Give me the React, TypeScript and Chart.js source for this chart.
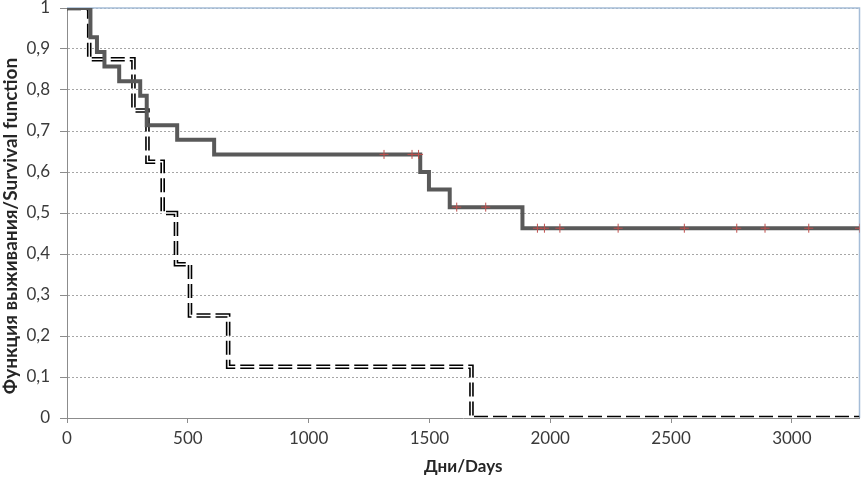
import { useEffect, useRef } from "react";
import { Chart, registerables } from "chart.js";

Chart.register(...registerables);

// Axis ticks
const xTicks = [0, 500, 1000, 1500, 2000, 2500, 3000];
const xMax = 3280;
const yTicks = [0, 0.1, 0.2, 0.3, 0.4, 0.5, 0.6, 0.7, 0.8, 0.9, 1];
const yTickLabels = ["0", "0,1", "0,2", "0,3", "0,4", "0,5", "0,6", "0,7", "0,8", "0,9", "1"];

// Group 1 (solid line)
const group1Days = [0, 97, 124, 155, 216, 303, 330, 456, 609, 1462, 1498, 1584, 1885, 3280];
const group1Survival = [1, 0.9286, 0.8929, 0.8571, 0.8214, 0.7857, 0.7143, 0.6786, 0.6429, 0.6, 0.5571, 0.5143, 0.4629, 0.4629];

// Group 1 censored observations
const group1CensorDays = [1312, 1428, 1455, 1613, 1733, 1947, 1976, 2040, 2281, 2555, 2772, 2889, 3070, 3280];
const group1CensorSurvival = [0.6429, 0.6429, 0.6429, 0.5143, 0.5143, 0.4629, 0.4629, 0.4629, 0.4629, 0.4629, 0.4629, 0.4629, 0.4629, 0.4629];

// Group 2 (double dashed line)
const group2Days = [0, 92, 275, 333, 396, 451, 509, 667, 1674, 3280];
const group2Survival = [1, 0.875, 0.75, 0.625, 0.5, 0.375, 0.25, 0.125, 0, 0];

const xTitle = "Дни/Days";
const yTitle = "Функция выживания/Survival function";

const toPoints = (xs: number[], ys: number[]) => xs.map((x, i) => ({ x, y: ys[i] }));

const frameBorder = {
  id: "frameBorder",
  beforeDatasetsDraw(chart: any) {
    const { ctx, chartArea } = chart;
    const { left, right, top, bottom } = chartArea;
    ctx.save();
    ctx.strokeStyle = "#a5bdd8";
    ctx.lineWidth = 1.5;
    ctx.beginPath();
    ctx.moveTo(left, top);
    ctx.lineTo(right, top);
    ctx.lineTo(right, bottom);
    ctx.stroke();
    ctx.restore();
  },
};

const yTitlePlugin = {
  id: "yTitlePlugin",
  afterDraw(chart: any) {
    const { ctx, chartArea } = chart;
    ctx.save();
    ctx.translate(11, chartArea.top + (chartArea.bottom - chartArea.top) / 2 + 13);
    ctx.rotate(-Math.PI / 2);
    ctx.font = "bold 19px Lato";
    ctx.fillStyle = "#262626";
    ctx.textAlign = "center";
    ctx.textBaseline = "middle";
    ctx.fillText(yTitle, 0, 0);
    ctx.restore();
  },
};

export default function App() {
  const canvasRef = useRef<HTMLCanvasElement | null>(null);

  useEffect(() => {
    document.body.style.margin = "0";
    const canvas = canvasRef.current;
    if (!canvas) return;
    const tickFont = { family: "Lato", size: 17 };
    const titleFont = { family: "Lato", size: 17, weight: "bold" as const };

    const chart = new Chart(canvas, {
      type: "line",
      data: {
        datasets: [
          {
            label: "censored",
            data: toPoints(group1CensorDays, group1CensorSurvival),
            showLine: false,
            pointStyle: "cross",
            pointRadius: 4.5,
            pointBorderWidth: 1,
            pointBorderColor: "#c0504d",
            pointBackgroundColor: "#c0504d",
            borderColor: "#c0504d",
          },
          {
            label: "group1",
            data: toPoints(group1Days, group1Survival),
            stepped: "before",
            borderColor: "#595959",
            borderWidth: 4,
            pointRadius: 0,
            fill: false,
          },
          {
            label: "group2inner",
            data: toPoints(group2Days, group2Survival),
            stepped: "before",
            borderColor: "#ffffff",
            borderWidth: 1.4,
            pointRadius: 0,
            fill: false,
          },
          {
            label: "group2outer",
            data: toPoints(group2Days, group2Survival),
            stepped: "before",
            borderColor: "#000000",
            borderWidth: 4.6,
            borderDash: [14, 5],
            pointRadius: 0,
            fill: false,
          },
        ],
      },
      options: {
        animation: false,
        responsive: true,
        maintainAspectRatio: false,
        layout: { padding: { left: 0, right: 2, top: 8, bottom: 0 } },
        plugins: {
          legend: { display: false },
          tooltip: { enabled: false },
        },
        scales: {
          x: {
            type: "linear",
            min: 0,
            max: xMax,
            afterBuildTicks: (scale: any) => {
              scale.ticks = xTicks.map((v) => ({ value: v }));
            },
            afterFit: (scale: any) => {
              scale.height = 65;
              scale.paddingLeft = 0;
              scale.paddingRight = 0;
            },
            grid: {
              drawOnChartArea: false,
              drawTicks: true,
              tickLength: 5,
              tickColor: "#8c8c8c",
            },
            border: { display: true, color: "#8c8c8c", width: 1 },
            ticks: {
              font: tickFont,
              color: "#3a3a3a",
              padding: 5,
              maxRotation: 0,
              autoSkip: false,
              callback: (v: any) => String(v),
            },
            title: {
              display: true,
              text: xTitle,
              font: titleFont,
              color: "#262626",
              padding: { top: 0, bottom: 6 },
            },
          },
          y: {
            type: "linear",
            min: 0,
            max: 1,
            afterBuildTicks: (scale: any) => {
              scale.ticks = yTicks.map((v) => ({ value: v }));
            },
            afterFit: (scale: any) => {
              scale.width = 67;
              scale.paddingTop = 0;
              scale.paddingBottom = 0;
            },
            grid: {
              color: "#a6a6a6",
              lineWidth: 1,
              drawTicks: true,
              tickLength: 7,
              tickColor: "#8c8c8c",
            },
            border: { display: true, color: "#8c8c8c", width: 1, dash: [2, 2] },
            ticks: {
              font: tickFont,
              color: "#3a3a3a",
              padding: 10,
              autoSkip: false,
              callback: (_v: any, i: number) => yTickLabels[i],
            },
            title: { display: false },
          },
        },
      },
      plugins: [frameBorder, yTitlePlugin],
    });

    return () => chart.destroy();
  }, []);

  return (
    <div style={{ width: 865, height: 483, position: "relative" }}>
      <canvas ref={canvasRef} />
    </div>
  );
}
